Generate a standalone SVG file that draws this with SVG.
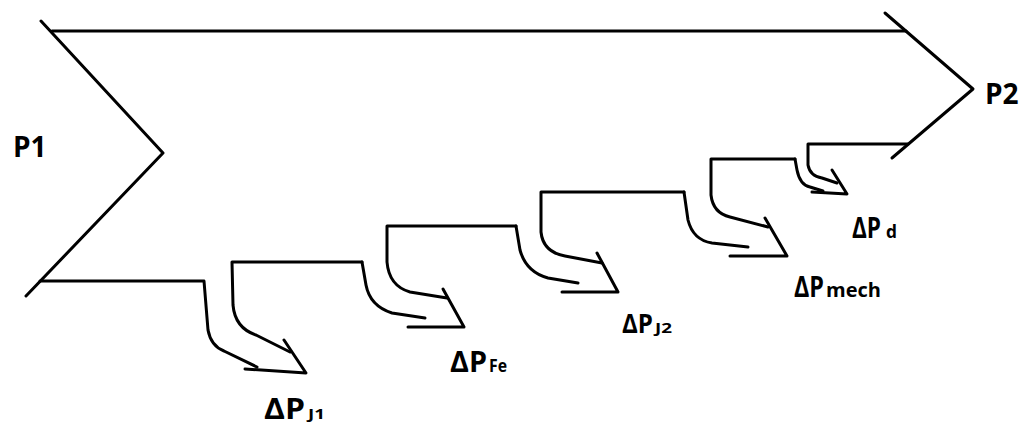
<svg xmlns="http://www.w3.org/2000/svg" width="1026" height="425" viewBox="0 0 1026 425">
<style>
.ln{fill:none;stroke:#000;stroke-width:3;stroke-linejoin:round;stroke-linecap:round}
.lb{font-family:"Open Sans","Lato","Liberation Sans",sans-serif;font-weight:700;fill:#000}
</style>
<rect width="1026" height="425" fill="#fff"/>
<g id="connectors">
  <g id="main-outline">
    <path class="ln" d="M41,21 L163,153 L26,296"/>
    <path class="ln" d="M52,31 L906,31"/>
    <path class="ln" d="M885,13 L973,89 L892,158"/>
  </g>
  <g id="stage1">
    <path class="ln" d="M40,281 L204,281 L208,330 Q211,346 224,351 L257,367"/>
    <path class="ln" d="M362,262 L232,262 L233,305 Q235,328 256,335 L290,352"/>
    <path class="ln" d="M245,369 L306,373 L284,340"/>
  </g>
  <g id="stage2">
    <path class="ln" d="M362,262 L366,285 Q370,306 392,313 L425,318"/>
    <path class="ln" d="M516,226 L387,226 L387,262 Q389,286 410,292 L447,298"/>
    <path class="ln" d="M408,327 L464,327 L443,289"/>
  </g>
  <g id="stage3">
    <path class="ln" d="M516,226 L520,250 Q526,272 548,278 L578,283"/>
    <path class="ln" d="M684,192 L541,192 L541,232 Q543,252 565,256 L602,263"/>
    <path class="ln" d="M562,292 L618,292 L597,253"/>
  </g>
  <g id="stage4">
    <path class="ln" d="M684,192 L688,220 Q693,240 712,243 L748,247"/>
    <path class="ln" d="M795,159 L711,159 L711,195 Q713,213 730,217 L768,227"/>
    <path class="ln" d="M730,256 L787,256 L765,218"/>
  </g>
  <g id="stage5">
    <path class="ln" d="M795,159 L797,170 Q800,185 810,187 L823,191"/>
    <path class="ln" d="M908,144 L808,144 L808,165 Q810,176 822,178 L837,183"/>
    <path class="ln" d="M812,192 L847,194 L832,170"/>
  </g>
</g>
<g id="label-P1"><text class="lb" x="13" y="157" font-size="28">P1</text></g>
<g id="label-P2"><text class="lb" x="985" y="104" font-size="28">P2</text></g>
<g id="label-dPJ1">
  <text class="lb" x="264" y="419" font-size="28" textLength="41" lengthAdjust="spacingAndGlyphs">ΔP</text>
  <text class="lb" x="308" y="419" font-size="14" textLength="17" lengthAdjust="spacingAndGlyphs">J1</text>
</g>
<g id="label-dPFe">
  <text class="lb" x="450" y="372" font-size="28" textLength="37" lengthAdjust="spacingAndGlyphs">ΔP</text>
  <text class="lb" x="489" y="372" font-size="18" textLength="18" lengthAdjust="spacingAndGlyphs">Fe</text>
</g>
<g id="label-dPJ2">
  <text class="lb" x="622" y="333" font-size="27" textLength="31" lengthAdjust="spacingAndGlyphs">ΔP</text>
  <text class="lb" x="655" y="333" font-size="14" textLength="17" lengthAdjust="spacingAndGlyphs">J2</text>
</g>
<g id="label-dPmech">
  <text class="lb" x="794" y="297" font-size="28" textLength="30" lengthAdjust="spacingAndGlyphs">ΔP</text>
  <text class="lb" x="826" y="297" font-size="20" textLength="55" lengthAdjust="spacingAndGlyphs">mech</text>
</g>
<g id="label-dPd">
  <text class="lb" x="852" y="238" font-size="28" textLength="29" lengthAdjust="spacingAndGlyphs">ΔP</text>
  <text class="lb" x="886" y="238" font-size="17" textLength="11" lengthAdjust="spacingAndGlyphs">d</text>
</g>
</svg>
